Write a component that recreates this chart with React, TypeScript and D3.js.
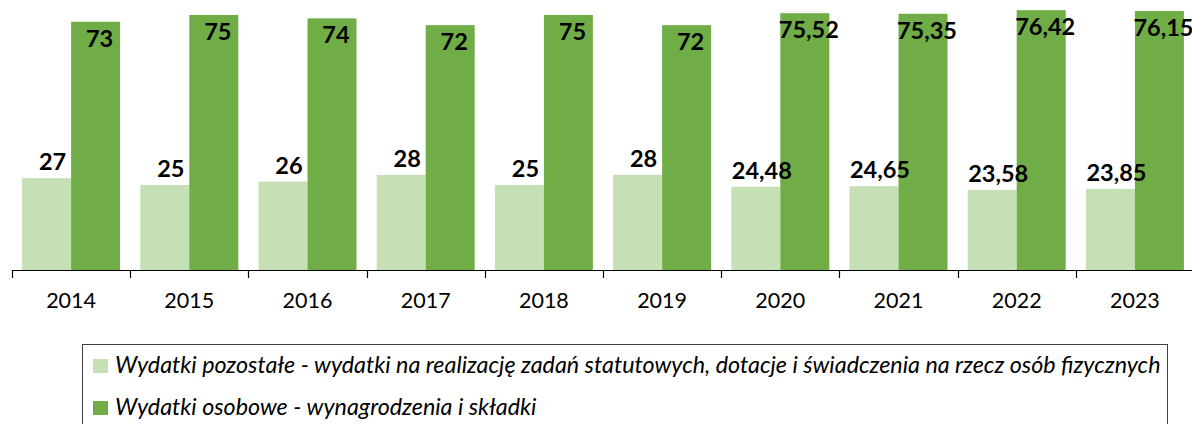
import React, { useEffect, useRef } from "react";
import * as d3 from "d3";

const years = ["2014", "2015", "2016", "2017", "2018", "2019", "2020", "2021", "2022", "2023"];
const pozostale = [27, 25, 26, 28, 25, 28, 24.48, 24.65, 23.58, 23.85];
const osobowe = [73, 75, 74, 72, 75, 72, 75.52, 75.35, 76.42, 76.15];
const seriesNames = [
  "Wydatki pozostałe - wydatki na realizację zadań statutowych, dotacje i świadczenia na rzecz osób fizycznych",
  "Wydatki osobowe - wynagrodzenia i składki",
];
const colors = ["#C5E0B4", "#70AD47"];

const fmt = (v: number) => (Number.isInteger(v) ? String(v) : v.toFixed(2).replace(".", ","));

const App = () => {
  const ref = useRef<SVGSVGElement>(null);

  useEffect(() => {
    const width = 1192;
    const height = 424;
    const left = 12;
    const right = 1194;
    const baseY = 270;
    const font = "Lato, 'Open Sans', sans-serif";

    const svg = d3.select(ref.current).attr("width", width).attr("height", height);
    svg.selectAll("*").remove();

    const x = d3.scaleBand().domain(years).range([left, right]).paddingInner(0.171).paddingOuter(0.0855);
    const inner = d3.scaleBand().domain(["0", "1"]).range([0, x.bandwidth()]);
    const y = d3.scaleLinear().domain([0, 79.4]).range([baseY, 0]);

    const data = [pozostale, osobowe];
    const bars = svg.append("g");
    const labels = svg.append("g");

    data.forEach((vals, si) => {
      bars.append("g")
        .selectAll("rect")
        .data(vals)
        .enter()
        .append("rect")
        .attr("x", (d, i) => (x(years[i]) as number) + (inner(String(si)) as number))
        .attr("y", d => y(d))
        .attr("width", inner.bandwidth())
        .attr("height", d => baseY - y(d))
        .attr("fill", colors[si]);

      // labels go in their own group so they sit above every bar
      labels.append("g")
        .selectAll("text")
        .data(vals)
        .enter()
        .append("text")
        .attr("x", (d, i) => (x(years[i]) as number) + (inner(String(si)) as number) + inner.bandwidth() / 2 + (si === 0 ? 6 : 4))
        .attr("y", d => (si === 0 ? y(d) - 8 : y(d) + 25))
        .attr("text-anchor", "middle")
        .attr("font-family", font)
        .attr("font-weight", "bold")
        .attr("font-size", "23.5px")
        .attr("fill", "#000")
        .text(d => fmt(d));
    });

    // axis
    svg.append("line")
      .attr("x1", left).attr("x2", width)
      .attr("y1", baseY + 0.5).attr("y2", baseY + 0.5)
      .attr("stroke", "#000").attr("stroke-width", 1.2);

    const step = x.step();
    d3.range(years.length + 1).forEach(i => {
      const tx = Math.round(left + i * step) + 0.5;
      svg.append("line")
        .attr("x1", tx).attr("x2", tx)
        .attr("y1", baseY).attr("y2", baseY + 8)
        .attr("stroke", "#000").attr("stroke-width", 1.2);
    });

    svg.append("g")
      .selectAll("text")
      .data(years)
      .enter()
      .append("text")
      .attr("x", d => (x(d) as number) + x.bandwidth() / 2)
      .attr("y", 308)
      .attr("text-anchor", "middle")
      .attr("font-family", font)
      .attr("font-size", "21.5px")
      .attr("fill", "#000")
      .text(d => d);

    // legend
    svg.append("rect")
      .attr("x", 82.5).attr("y", 344.5)
      .attr("width", 1085).attr("height", 100)
      .attr("fill", "none").attr("stroke", "#404040").attr("stroke-width", 1);

    seriesNames.forEach((name, i) => {
      const ly = 373 + i * 42;
      svg.append("rect")
        .attr("x", 93).attr("y", ly - 14)
        .attr("width", 15).attr("height", 14)
        .attr("fill", colors[i]);
      svg.append("text")
        .attr("x", 115).attr("y", ly)
        .attr("font-family", font)
        .attr("font-style", "italic")
        .attr("font-size", "23.3px")
        .attr("fill", "#000")
        .text(name);
    });
  }, []);

  return (
    <div style={{ position: "absolute", left: 0, top: 0 }}>
      <svg ref={ref} style={{ display: "block" }}></svg>
    </div>
  );
};

export default App;
